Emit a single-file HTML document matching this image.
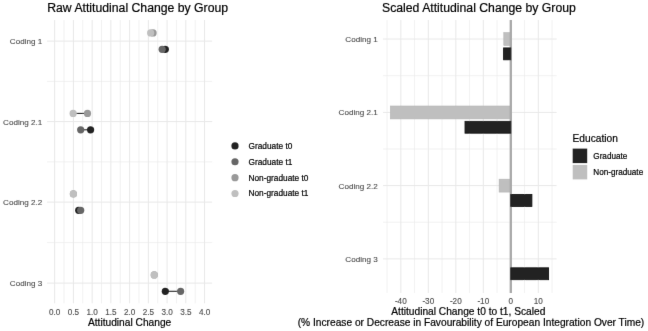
<!DOCTYPE html>
<html><head><meta charset="utf-8"><style>
html,body{margin:0;padding:0;background:#fff;}
svg{display:block;font-family:"Liberation Sans", sans-serif;}
#w{will-change:transform;width:648px;height:331px;}
</style></head><body>
<div id="w"><svg width="648" height="331" viewBox="0 0 648 331">
<defs><filter id="bl" x="-5%" y="-5%" width="110%" height="110%"><feConvolveMatrix order="3" kernelMatrix="0 1 0 1 12 1 0 1 0" edgeMode="duplicate" preserveAlpha="false"/></filter></defs>
<rect x="0" y="0" width="648" height="331" fill="#fff"/>
<g filter="url(#bl)">
<line x1="54.65" y1="20.00" x2="54.65" y2="303.30" stroke="#E8E8E8" stroke-width="1.0"/>
<line x1="64.02" y1="20.00" x2="64.02" y2="303.30" stroke="#E8E8E8" stroke-width="0.6"/>
<line x1="73.39" y1="20.00" x2="73.39" y2="303.30" stroke="#E8E8E8" stroke-width="1.0"/>
<line x1="82.76" y1="20.00" x2="82.76" y2="303.30" stroke="#E8E8E8" stroke-width="0.6"/>
<line x1="92.13" y1="20.00" x2="92.13" y2="303.30" stroke="#E8E8E8" stroke-width="1.0"/>
<line x1="101.50" y1="20.00" x2="101.50" y2="303.30" stroke="#E8E8E8" stroke-width="0.6"/>
<line x1="110.87" y1="20.00" x2="110.87" y2="303.30" stroke="#E8E8E8" stroke-width="1.0"/>
<line x1="120.24" y1="20.00" x2="120.24" y2="303.30" stroke="#E8E8E8" stroke-width="0.6"/>
<line x1="129.61" y1="20.00" x2="129.61" y2="303.30" stroke="#E8E8E8" stroke-width="1.0"/>
<line x1="138.98" y1="20.00" x2="138.98" y2="303.30" stroke="#E8E8E8" stroke-width="0.6"/>
<line x1="148.35" y1="20.00" x2="148.35" y2="303.30" stroke="#E8E8E8" stroke-width="1.0"/>
<line x1="157.72" y1="20.00" x2="157.72" y2="303.30" stroke="#E8E8E8" stroke-width="0.6"/>
<line x1="167.09" y1="20.00" x2="167.09" y2="303.30" stroke="#E8E8E8" stroke-width="1.0"/>
<line x1="176.46" y1="20.00" x2="176.46" y2="303.30" stroke="#E8E8E8" stroke-width="0.6"/>
<line x1="185.83" y1="20.00" x2="185.83" y2="303.30" stroke="#E8E8E8" stroke-width="1.0"/>
<line x1="195.20" y1="20.00" x2="195.20" y2="303.30" stroke="#E8E8E8" stroke-width="0.6"/>
<line x1="204.57" y1="20.00" x2="204.57" y2="303.30" stroke="#E8E8E8" stroke-width="1.0"/>
<line x1="47.00" y1="41.10" x2="212.20" y2="41.10" stroke="#E8E8E8" stroke-width="1.0"/>
<line x1="47.00" y1="121.60" x2="212.20" y2="121.60" stroke="#E8E8E8" stroke-width="1.0"/>
<line x1="47.00" y1="202.10" x2="212.20" y2="202.10" stroke="#E8E8E8" stroke-width="1.0"/>
<line x1="47.00" y1="283.10" x2="212.20" y2="283.10" stroke="#E8E8E8" stroke-width="1.0"/>
<line x1="47.00" y1="81.35" x2="212.20" y2="81.35" stroke="#E8E8E8" stroke-width="0.6"/>
<line x1="47.00" y1="161.85" x2="212.20" y2="161.85" stroke="#E8E8E8" stroke-width="0.6"/>
<line x1="47.00" y1="242.60" x2="212.20" y2="242.60" stroke="#E8E8E8" stroke-width="0.6"/>
<line x1="153.07" y1="32.90" x2="150.67" y2="32.90" stroke="#262626" stroke-width="1.1"/>
<line x1="165.33" y1="49.30" x2="162.14" y2="49.30" stroke="#262626" stroke-width="1.1"/>
<line x1="87.48" y1="113.40" x2="73.13" y2="113.40" stroke="#262626" stroke-width="1.1"/>
<line x1="90.59" y1="129.80" x2="80.70" y2="129.80" stroke="#262626" stroke-width="1.1"/>
<line x1="73.39" y1="193.90" x2="73.39" y2="193.90" stroke="#262626" stroke-width="1.1"/>
<line x1="78.71" y1="210.30" x2="80.70" y2="210.30" stroke="#262626" stroke-width="1.1"/>
<line x1="154.27" y1="274.90" x2="154.27" y2="274.90" stroke="#262626" stroke-width="1.1"/>
<line x1="165.33" y1="291.30" x2="180.62" y2="291.30" stroke="#262626" stroke-width="1.1"/>
<circle cx="153.07" cy="32.90" r="3.6" fill="#999999"/>
<circle cx="150.67" cy="32.90" r="3.6" fill="#BFBFBF"/>
<circle cx="165.33" cy="49.30" r="3.6" fill="#222222"/>
<circle cx="162.14" cy="49.30" r="3.6" fill="#666666"/>
<circle cx="87.48" cy="113.40" r="3.6" fill="#999999"/>
<circle cx="73.13" cy="113.40" r="3.6" fill="#BFBFBF"/>
<circle cx="90.59" cy="129.80" r="3.6" fill="#222222"/>
<circle cx="80.70" cy="129.80" r="3.6" fill="#666666"/>
<circle cx="73.39" cy="193.90" r="3.6" fill="#999999"/>
<circle cx="73.39" cy="193.90" r="3.6" fill="#BFBFBF"/>
<circle cx="78.71" cy="210.30" r="3.6" fill="#222222"/>
<circle cx="80.70" cy="210.30" r="3.6" fill="#666666"/>
<circle cx="154.27" cy="274.90" r="3.6" fill="#999999"/>
<circle cx="154.27" cy="274.90" r="3.6" fill="#BFBFBF"/>
<circle cx="165.33" cy="291.30" r="3.6" fill="#222222"/>
<circle cx="180.62" cy="291.30" r="3.6" fill="#666666"/>
<text x="42.20" y="44.05" font-size="8.1" fill="#4D4D4D" stroke="#4D4D4D" stroke-width="0.12" text-anchor="end">Coding 1</text>
<text x="42.20" y="124.55" font-size="8.1" fill="#4D4D4D" stroke="#4D4D4D" stroke-width="0.12" text-anchor="end">Coding 2.1</text>
<text x="42.20" y="205.05" font-size="8.1" fill="#4D4D4D" stroke="#4D4D4D" stroke-width="0.12" text-anchor="end">Coding 2.2</text>
<text x="42.20" y="286.05" font-size="8.1" fill="#4D4D4D" stroke="#4D4D4D" stroke-width="0.12" text-anchor="end">Coding 3</text>
<text x="54.65" y="315.00" font-size="8.16" fill="#4D4D4D" stroke="#4D4D4D" stroke-width="0.12" text-anchor="middle">0.0</text>
<text x="73.39" y="315.00" font-size="8.16" fill="#4D4D4D" stroke="#4D4D4D" stroke-width="0.12" text-anchor="middle">0.5</text>
<text x="92.13" y="315.00" font-size="8.16" fill="#4D4D4D" stroke="#4D4D4D" stroke-width="0.12" text-anchor="middle">1.0</text>
<text x="110.87" y="315.00" font-size="8.16" fill="#4D4D4D" stroke="#4D4D4D" stroke-width="0.12" text-anchor="middle">1.5</text>
<text x="129.61" y="315.00" font-size="8.16" fill="#4D4D4D" stroke="#4D4D4D" stroke-width="0.12" text-anchor="middle">2.0</text>
<text x="148.35" y="315.00" font-size="8.16" fill="#4D4D4D" stroke="#4D4D4D" stroke-width="0.12" text-anchor="middle">2.5</text>
<text x="167.09" y="315.00" font-size="8.16" fill="#4D4D4D" stroke="#4D4D4D" stroke-width="0.12" text-anchor="middle">3.0</text>
<text x="185.83" y="315.00" font-size="8.16" fill="#4D4D4D" stroke="#4D4D4D" stroke-width="0.12" text-anchor="middle">3.5</text>
<text x="204.57" y="315.00" font-size="8.16" fill="#4D4D4D" stroke="#4D4D4D" stroke-width="0.12" text-anchor="middle">4.0</text>
<text x="129.60" y="326.30" font-size="10.2" fill="#000" stroke="#000" stroke-width="0.2" text-anchor="middle">Attitudinal Change</text>
<text x="47.20" y="12.30" font-size="12.24" fill="#000" stroke="#000" stroke-width="0.2" text-anchor="start">Raw Attitudinal Change by Group</text>
<circle cx="235.00" cy="145.90" r="3.6" fill="#222222"/>
<text x="248.50" y="148.80" font-size="8.3" fill="#000" stroke="#000" stroke-width="0.2" text-anchor="start">Graduate t0</text>
<circle cx="235.00" cy="161.77" r="3.6" fill="#666666"/>
<text x="248.50" y="164.67" font-size="8.3" fill="#000" stroke="#000" stroke-width="0.2" text-anchor="start">Graduate t1</text>
<circle cx="235.00" cy="177.64" r="3.6" fill="#999999"/>
<text x="248.50" y="180.54" font-size="8.3" fill="#000" stroke="#000" stroke-width="0.2" text-anchor="start">Non-graduate t0</text>
<circle cx="235.00" cy="193.51" r="3.6" fill="#BFBFBF"/>
<text x="248.50" y="196.41" font-size="8.3" fill="#000" stroke="#000" stroke-width="0.2" text-anchor="start">Non-graduate t1</text>
<line x1="387.05" y1="20.00" x2="387.05" y2="293.00" stroke="#E8E8E8" stroke-width="0.6"/>
<line x1="400.80" y1="20.00" x2="400.80" y2="293.00" stroke="#E8E8E8" stroke-width="1.0"/>
<line x1="414.55" y1="20.00" x2="414.55" y2="293.00" stroke="#E8E8E8" stroke-width="0.6"/>
<line x1="428.30" y1="20.00" x2="428.30" y2="293.00" stroke="#E8E8E8" stroke-width="1.0"/>
<line x1="442.05" y1="20.00" x2="442.05" y2="293.00" stroke="#E8E8E8" stroke-width="0.6"/>
<line x1="455.80" y1="20.00" x2="455.80" y2="293.00" stroke="#E8E8E8" stroke-width="1.0"/>
<line x1="469.55" y1="20.00" x2="469.55" y2="293.00" stroke="#E8E8E8" stroke-width="0.6"/>
<line x1="483.30" y1="20.00" x2="483.30" y2="293.00" stroke="#E8E8E8" stroke-width="1.0"/>
<line x1="497.05" y1="20.00" x2="497.05" y2="293.00" stroke="#E8E8E8" stroke-width="0.6"/>
<line x1="510.80" y1="20.00" x2="510.80" y2="293.00" stroke="#E8E8E8" stroke-width="1.0"/>
<line x1="524.55" y1="20.00" x2="524.55" y2="293.00" stroke="#E8E8E8" stroke-width="0.6"/>
<line x1="538.30" y1="20.00" x2="538.30" y2="293.00" stroke="#E8E8E8" stroke-width="1.0"/>
<line x1="552.05" y1="20.00" x2="552.05" y2="293.00" stroke="#E8E8E8" stroke-width="0.6"/>
<line x1="383.00" y1="39.00" x2="556.60" y2="39.00" stroke="#E8E8E8" stroke-width="1.0"/>
<line x1="383.00" y1="112.40" x2="556.60" y2="112.40" stroke="#E8E8E8" stroke-width="1.0"/>
<line x1="383.00" y1="185.60" x2="556.60" y2="185.60" stroke="#E8E8E8" stroke-width="1.0"/>
<line x1="383.00" y1="258.90" x2="556.60" y2="258.90" stroke="#E8E8E8" stroke-width="1.0"/>
<line x1="383.00" y1="75.70" x2="556.60" y2="75.70" stroke="#E8E8E8" stroke-width="0.6"/>
<line x1="383.00" y1="149.00" x2="556.60" y2="149.00" stroke="#E8E8E8" stroke-width="0.6"/>
<line x1="383.00" y1="222.25" x2="556.60" y2="222.25" stroke="#E8E8E8" stroke-width="0.6"/>
<rect x="503.79" y="32.60" width="7.01" height="12.90" fill="#BFBFBF" stroke="#B4B4B4" stroke-width="0.6"/>
<rect x="390.35" y="106.00" width="120.45" height="12.90" fill="#BFBFBF" stroke="#B4B4B4" stroke-width="0.6"/>
<rect x="499.11" y="179.20" width="11.69" height="12.90" fill="#BFBFBF" stroke="#B4B4B4" stroke-width="0.6"/>
<line x1="510.80" y1="20.00" x2="510.80" y2="293.00" stroke="#A8A8A8" stroke-width="2.3"/>
<rect x="503.60" y="47.90" width="7.20" height="11.90" fill="#242424" stroke="#111111" stroke-width="0.8"/>
<rect x="465.01" y="121.30" width="45.79" height="11.90" fill="#242424" stroke="#111111" stroke-width="0.8"/>
<rect x="510.80" y="194.50" width="21.09" height="11.90" fill="#242424" stroke="#111111" stroke-width="0.8"/>
<rect x="510.80" y="267.80" width="37.81" height="11.90" fill="#242424" stroke="#111111" stroke-width="0.8"/>
<text x="377.70" y="41.95" font-size="8.1" fill="#4D4D4D" stroke="#4D4D4D" stroke-width="0.12" text-anchor="end">Coding 1</text>
<text x="377.70" y="115.35" font-size="8.1" fill="#4D4D4D" stroke="#4D4D4D" stroke-width="0.12" text-anchor="end">Coding 2.1</text>
<text x="377.70" y="188.55" font-size="8.1" fill="#4D4D4D" stroke="#4D4D4D" stroke-width="0.12" text-anchor="end">Coding 2.2</text>
<text x="377.70" y="261.85" font-size="8.1" fill="#4D4D4D" stroke="#4D4D4D" stroke-width="0.12" text-anchor="end">Coding 3</text>
<text x="400.80" y="304.30" font-size="8.16" fill="#4D4D4D" stroke="#4D4D4D" stroke-width="0.12" text-anchor="middle">-40</text>
<text x="428.30" y="304.30" font-size="8.16" fill="#4D4D4D" stroke="#4D4D4D" stroke-width="0.12" text-anchor="middle">-30</text>
<text x="455.80" y="304.30" font-size="8.16" fill="#4D4D4D" stroke="#4D4D4D" stroke-width="0.12" text-anchor="middle">-20</text>
<text x="483.30" y="304.30" font-size="8.16" fill="#4D4D4D" stroke="#4D4D4D" stroke-width="0.12" text-anchor="middle">-10</text>
<text x="510.80" y="304.30" font-size="8.16" fill="#4D4D4D" stroke="#4D4D4D" stroke-width="0.12" text-anchor="middle">0</text>
<text x="538.30" y="304.30" font-size="8.16" fill="#4D4D4D" stroke="#4D4D4D" stroke-width="0.12" text-anchor="middle">10</text>
<text x="468.30" y="315.30" font-size="10.2" fill="#000" stroke="#000" stroke-width="0.2" text-anchor="middle">Attitudinal Change t0 to t1, Scaled</text>
<text x="471.00" y="326.00" font-size="10.2" fill="#000" stroke="#000" stroke-width="0.2" text-anchor="middle">(% Increase or Decrease in Favourability of European Integration Over Time)</text>
<text x="382.00" y="12.30" font-size="12.24" fill="#000" stroke="#000" stroke-width="0.2" text-anchor="start">Scaled Attitudinal Change by Group</text>
<text x="572.50" y="141.70" font-size="10.2" fill="#000" stroke="#000" stroke-width="0.2" text-anchor="start">Education</text>
<rect x="572.70" y="148.60" width="14.50" height="14.50" fill="#242424" />
<rect x="572.70" y="164.90" width="14.50" height="14.50" fill="#BFBFBF" />
<text x="593.30" y="159.10" font-size="8.16" fill="#000" stroke="#000" stroke-width="0.2" text-anchor="start">Graduate</text>
<text x="593.30" y="175.20" font-size="8.16" fill="#000" stroke="#000" stroke-width="0.2" text-anchor="start">Non-graduate</text>
</g>
</svg></div>
</body></html>
